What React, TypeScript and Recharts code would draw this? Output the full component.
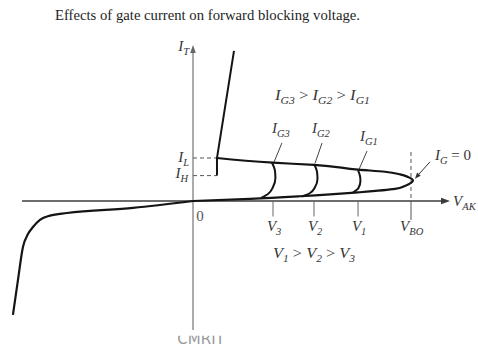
import { ComposedChart, Line, XAxis, YAxis, ReferenceLine, ReferenceDot } from "recharts";

// thyristor V-I characteristic: x = V_AK (V_BO = 100), y = I_T (I_L = 10)
const X_DOMAIN: [number, number] = [-88.53, 130.73];
const Y_DOMAIN: [number, number] = [-33.49, 46.74];

const V_BO = 100;
const gateVoltages = [
  { name: "3", v: 36.7 },
  { name: "2", v: 55.5 },
  { name: "1", v: 75.7 },
];
const I_L = 10;
const I_H = 5.9;

// reverse blocking and avalanche branch, ending at the origin
const reverseBranch = [
  { x: -82.6, y: -26.5 },
  { x: -80.3, y: -18.4 },
  { x: -78.0, y: -10.7 },
  { x: -75.7, y: -7.7 },
  { x: -73.4, y: -6.05 },
  { x: -70.2, y: -4.4 },
  { x: -65.6, y: -3.4 },
  { x: -57.8, y: -2.8 },
  { x: -27.5, y: -1.6 },
  { x: 0, y: 0 },
];

// I_G = 0 loop: upper branch from I_L out to V_BO, back along the leakage branch
const blockingLoop = [
  { x: 11.0, y: 10.0 },
  { x: 36.7, y: 8.9 },
  { x: 55.5, y: 8.4 },
  { x: 75.7, y: 7.3 },
  { x: 88.1, y: 6.8 },
  { x: 95.0, y: 6.2 },
  { x: 98.6, y: 5.6 },
  { x: 100.9, y: 4.8 },
  { x: 97.2, y: 3.5 },
  { x: 92.7, y: 2.8 },
  { x: 75.7, y: 2.0 },
  { x: 49.1, y: 1.1 },
  { x: 26.1, y: 0.5 },
  { x: 0, y: 0 },
];

const gateLoopG3 = [
  { x: 36.2, y: 8.95 },
  { x: 37.6, y: 7.0 },
  { x: 37.8, y: 5.35 },
  { x: 36.7, y: 3.26 },
  { x: 34.4, y: 1.63 },
  { x: 31.2, y: 0.7 },
];
const gateLoopG2 = [
  { x: 55.5, y: 8.6 },
  { x: 56.9, y: 6.74 },
  { x: 57.1, y: 5.12 },
  { x: 56.0, y: 3.26 },
  { x: 53.7, y: 1.86 },
  { x: 50.0, y: 1.05 },
];
const gateLoopG1 = [
  { x: 75.7, y: 7.1 },
  { x: 76.6, y: 5.8 },
  { x: 76.8, y: 4.65 },
  { x: 75.9, y: 3.0 },
  { x: 73.4, y: 1.98 },
];

// on-state branch: I_H up to I_L, then the steep conduction line
const onStateBranch = [
  { x: 11.0, y: I_H },
  { x: 11.0, y: I_L },
  { x: 18.8, y: 34.9 },
];

const INK = "#141414";
const TEXT = "#363636";
const SERIF = "'Liberation Serif', 'Times New Roman', serif";

type Part = { t: string; sub?: string; italic?: boolean };

function RichText(props: {
  cx?: number;
  cy?: number;
  parts: Part[];
  anchor?: "start" | "middle" | "end";
  size?: number;
  fill?: string;
  width?: number;
}) {
  const { cx = 0, cy = 0, parts, anchor = "start", size = 15, fill = TEXT, width } = props;
  const spans: React.ReactNode[] = [];
  let lowered = false;
  parts.forEach((p, i) => {
    spans.push(
      <tspan key={`m${i}`} dy={lowered ? -4 : 0} fontStyle={p.italic === false ? "normal" : "italic"}>
        {p.t}
      </tspan>
    );
    lowered = false;
    if (p.sub) {
      spans.push(
        <tspan key={`s${i}`} dy={4} fontSize={size * 0.7} fontStyle="italic">
          {p.sub}
        </tspan>
      );
      lowered = true;
    }
  });
  return (
    <text
      x={cx}
      y={cy}
      textAnchor={anchor}
      fontFamily={SERIF}
      fontSize={size}
      fill={fill}
      textLength={width}
      lengthAdjust={width ? "spacingAndGlyphs" : undefined}
    >
      {spans}
    </text>
  );
}

const arrowShape =
  (color: string, width: number, len: number, half: number) =>
  (p: any) => {
    const { x1, y1, x2, y2 } = p;
    const a = Math.atan2(y2 - y1, x2 - x1);
    const bx = x2 - len * Math.cos(a);
    const by = y2 - len * Math.sin(a);
    const nx = -Math.sin(a) * half;
    const ny = Math.cos(a) * half;
    return (
      <g>
        <line x1={x1} y1={y1} x2={bx} y2={by} stroke={color} strokeWidth={width} />
        <polygon points={`${x2},${y2} ${bx + nx},${by + ny} ${bx - nx},${by - ny}`} fill={color} />
      </g>
    );
  };

function Watermark(props: { cx?: number; cy?: number }) {
  const { cx = 0, cy = 0 } = props;
  return (
    <g>
      <defs>
        <clipPath id="wm-clip">
          <rect x={cx - 40} y={cy - 8} width={80} height={20} />
        </clipPath>
      </defs>
      <text x={cx} y={cy} textAnchor="middle" fontFamily="'DejaVu Sans', sans-serif" fontSize={15} fill="#9a9a9a" clipPath="url(#wm-clip)">
        CMRIT
      </text>
    </g>
  );
}

const label = (x: number, y: number, parts: Part[], opts: Partial<Parameters<typeof RichText>[0]> = {}) => (
  <ReferenceDot
    key={`${x}-${y}`}
    x={x}
    y={y}
    r={1}
    shape={(p: any) => <RichText cx={p.cx} cy={p.cy} parts={parts} {...opts} />}
  />
);

const curve = { dot: false, activeDot: false, isAnimationActive: false, stroke: INK } as const;

export default function App() {
  return (
    <div style={{ position: "absolute", left: 0, top: 0, background: "#fff" }}>
      <ComposedChart width={478} height={345} margin={{ top: 0, right: 0, bottom: 0, left: 0 }}>
        <XAxis type="number" dataKey="x" domain={X_DOMAIN} hide allowDataOverflow />
        <YAxis type="number" dataKey="y" domain={Y_DOMAIN} hide allowDataOverflow />

        {/* axes */}
        <ReferenceLine
          segment={[{ x: 0, y: -30 }, { x: 0, y: 36.3 }]}
          shape={arrowShape("#666", 1.1, 8, 2.8)}
        />
        <ReferenceLine
          segment={[{ x: -78.4, y: 0 }, { x: 117.9, y: 0 }]}
          shape={arrowShape("#3c3c3c", 1.4, 9, 3.2)}
        />

        {/* latching and holding levels */}
        <ReferenceLine segment={[{ x: 0, y: I_L }, { x: 11, y: I_L }]} stroke="#555" strokeDasharray="4 3" />
        <ReferenceLine segment={[{ x: 0, y: I_H }, { x: 11, y: I_H }]} stroke="#555" strokeDasharray="4 3" />

        {/* voltage ticks */}
        {gateVoltages.map((g) => (
          <ReferenceLine key={g.name} segment={[{ x: g.v, y: 0 }, { x: g.v, y: -3.6 }]} stroke="#666" />
        ))}
        <ReferenceLine segment={[{ x: V_BO, y: 11.4 }, { x: V_BO, y: 0 }]} stroke="#555" strokeDasharray="4 3" />
        <ReferenceLine segment={[{ x: V_BO, y: 0 }, { x: V_BO, y: -4.4 }]} stroke="#555" />

        {/* label leaders */}
        <ReferenceLine segment={[{ x: 40.8, y: 13.5 }, { x: 37.2, y: 9.1 }]} stroke="#444" />
        <ReferenceLine segment={[{ x: 59.2, y: 13.5 }, { x: 56.0, y: 8.8 }]} stroke="#444" />
        <ReferenceLine segment={[{ x: 79.8, y: 11.6 }, { x: 76.2, y: 7.4 }]} stroke="#444" />
        <ReferenceLine
          segment={[{ x: 108.7, y: 9.1 }, { x: 101.8, y: 5.2 }]}
          shape={arrowShape("#333", 1, 6, 2.4)}
        />

        <Line data={reverseBranch} dataKey="y" type="monotone" strokeWidth={2.2} {...curve} />
        <Line data={blockingLoop} dataKey="y" type="monotoneY" strokeWidth={2.2} {...curve} />
        <Line data={gateLoopG3} dataKey="y" type="monotoneY" strokeWidth={2} {...curve} />
        <Line data={gateLoopG2} dataKey="y" type="monotoneY" strokeWidth={2} {...curve} />
        <Line data={gateLoopG1} dataKey="y" type="monotoneY" strokeWidth={2} {...curve} />
        <Line data={onStateBranch} dataKey="y" type="linear" strokeWidth={2} {...curve} />

        {label(6.65, 42.1, [{ t: "Effects of gate current on forward blocking voltage.", italic: false }], {
          anchor: "middle",
          size: 15,
          fill: "#1e1e1e",
          width: 305,
        })}
        {label(-1.8, 34.9, [{ t: "I", sub: "T" }], { anchor: "end" })}
        {label(-1.8, 9.1, [{ t: "I", sub: "L" }], { anchor: "end" })}
        {label(-2.3, 5.35, [{ t: "I", sub: "H" }], { anchor: "end" })}
        {label(3.2, -4.6, [{ t: "0", italic: false }], { anchor: "middle", fill: "#555" })}
        {label(
          37.6,
          23.5,
          [
            { t: "I", sub: "G3" },
            { t: " > ", italic: false },
            { t: "I", sub: "G2" },
            { t: " > ", italic: false },
            { t: "I", sub: "G1" },
          ],
          { width: 95 }
        )}
        {label(36.2, 15.8, [{ t: "I", sub: "G3" }])}
        {label(54.6, 15.8, [{ t: "I", sub: "G2" }])}
        {label(76.6, 13.95, [{ t: "I", sub: "G1" }])}
        {label(111.0, 9.5, [{ t: "I", sub: "G" }, { t: " = 0", italic: false }])}
        {label(119.3, -1.2, [{ t: "V", sub: "AK" }])}
        {gateVoltages.map((g) => label(g.v - 2.8, -7.0, [{ t: "V", sub: g.name }]))}
        {label(V_BO - 5, -7.0, [{ t: "V", sub: "BO" }])}
        {label(
          36.7,
          -13.3,
          [
            { t: "V", sub: "1" },
            { t: " > ", italic: false },
            { t: "V", sub: "2" },
            { t: " > ", italic: false },
            { t: "V", sub: "3" },
          ],
          { width: 82 }
        )}
        <ReferenceDot x={3.7} y={-33.2} r={1} shape={(p: any) => <Watermark cx={p.cx} cy={p.cy} />} />
      </ComposedChart>
    </div>
  );
}
